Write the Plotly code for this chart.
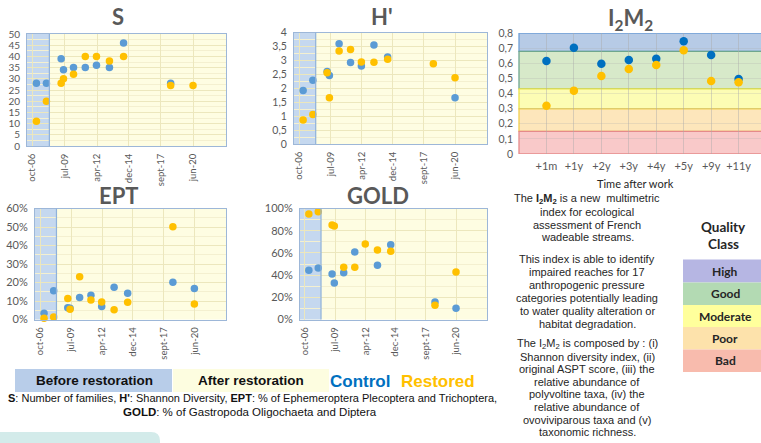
import plotly.graph_objects as go

W, H = 761, 443
def px(x): return x / W
def py(y): return 1 - y / H

# ---------------- data ----------------
sample_dates = [2007.1, 2007.95, 2009.2, 2009.4, 2010.25, 2011.25, 2012.2, 2013.3, 2014.5, 2018.5, 2020.4]
date_tickvals = [2006.75, 2009.5, 2012.25, 2014.92, 2017.67, 2020.42]
date_ticktext = ["oct-06", "jul-09", "apr-12", "dec-14", "sept-17", "jun-20"]
date_range = [2006.3, 2023.2]
restoration_date = 2008.2

S_control = [28, 28, 39, 34, 35, 35, 36, 35, 46, 28, None]
S_restored = [11, 20, 28, 30, 32, 40, 40, 38, 40, 27, 27]
H_control = [1.92, 2.29, 2.6, 2.46, 3.6, 2.92, 2.8, 3.55, 3.12, None, 1.66]
H_restored = [0.86, 1.06, 2.56, 1.66, 3.34, 3.39, 2.94, 2.93, 3.04, 2.88, 2.38]
EPT_control = [0.034, 0.155, 0.063, 0.061, 0.119, 0.131, 0.070, 0.175, 0.142, 0.202, 0.168]
EPT_restored = [0.007, 0.014, 0.113, 0.055, 0.231, 0.106, 0.095, 0.053, 0.093, 0.501, 0.084]
GOLD_control = [0.443, 0.464, 0.41, 0.329, 0.422, 0.608, None, 0.488, 0.674, 0.158, 0.101]
GOLD_restored = [0.95, 0.971, 0.851, 0.842, 0.47, 0.47, 0.68, 0.626, 0.614, 0.128, 0.428]

i2m2_labels = ["+1m", "+1y", "+2y", "+3y", "+4y", "+5y", "+9y", "+11y"]
i2m2_control = [0.615, 0.703, 0.597, 0.621, 0.63, 0.745, 0.655, 0.496]
i2m2_restored = [0.319, 0.419, 0.516, 0.562, 0.588, 0.686, 0.483, 0.474]
quality_classes = ["High", "Good", "Moderate", "Poor", "Bad"]
quality_bounds = [0.8, 0.679, 0.43, 0.298, 0.15, 0.0]

# ---------------- styles ----------------
BLUE = "#5b9bd5"
BLUE_DARK = "#0070c0"
ORANGE = "#ffc000"
GRAY = "#595959"
CHART_FONT = "Lato"
TEXT_FONT = "Liberation Sans, Arial"
PLOT_BG = "#fefde2"
BEFORE_FILL = "#c5d8ef"
BORDER = "#9db7d8"
GRID = "#ece7bd"

band_fill = ["#b7cbe6", "#d7e9c9", "#fcfcb4", "#fde6bb", "#f9c9c9"]
band_line = ["#6f9fd6", "#6fa68e", "#ece34a", "#f1cf4f", "#e58a8a"]
legend_fill = ["#b6b6e3", "#b3dab3", "#ffff9c", "#fde2ab", "#f8bbad"]

fig = go.Figure()

def note(text, x, y, size, color, family=TEXT_FONT):
    return dict(text=text, x=px(x), y=py(y), xref="paper", yref="paper", showarrow=False,
                xanchor="center", yanchor="middle", font=dict(family=family, size=size, color=color))

# panels: (suffix, left, right, top, bottom) in pixels
panels = {
    "S": ("", 27, 226, 34, 146),
    "H'": ("2", 294, 487, 32.5, 144),
    "EPT": ("3", 35, 226, 208.5, 319.5),
    "GOLD": ("4", 300, 487, 208.5, 319.5),
}
yconf = {
    "S": ([0, 50], list(range(0, 51, 5)), [str(v) for v in range(0, 51, 5)], 2.5, 10),
    "H'": ([0, 4], [i * 0.5 for i in range(9)],
           ["0", "0,5", "1", "1,5", "2", "2,5", "3", "3,5", "4"], 0.25, 10.5),
    "EPT": ([0, 0.6], [i * 0.1 for i in range(7)], [f"{i*10}%" for i in range(7)], 0.05, 11),
    "GOLD": ([0, 1.0], [i * 0.2 for i in range(6)], [f"{i*20}%" for i in range(6)], 0.1, 11),
}
series = {
    "S": (S_control, S_restored),
    "H'": (H_control, H_restored),
    "EPT": (EPT_control, EPT_restored),
    "GOLD": (GOLD_control, GOLD_restored),
}
title_pos = {"S": (118, 17), "H'": (382, 17), "EPT": (118, 195), "GOLD": (378, 195)}

layout_axes = {}
shapes = []
annotations = []

for name, (suf, l, r, t, b) in panels.items():
    xa = "x" + suf
    ya = "y" + suf
    ctrl, rest = series[name]
    fig.add_trace(go.Scatter(x=sample_dates, y=ctrl, mode="markers", xaxis=xa, yaxis=ya,
                             marker=dict(color=BLUE, size=7.5), showlegend=False, cliponaxis=False))
    fig.add_trace(go.Scatter(x=sample_dates, y=rest, mode="markers", xaxis=xa, yaxis=ya,
                             marker=dict(color=ORANGE, size=7.5), showlegend=False, cliponaxis=False))
    rng, tv, tt, minor, fsize = yconf[name]
    layout_axes["xaxis" + suf] = dict(
        domain=[px(l), px(r)], range=date_range, anchor=ya, automargin=False,
        tickmode="array", tickvals=date_tickvals, ticktext=date_ticktext, tickangle=-90,
        tickfont=dict(family=CHART_FONT, size=9.5, color=GRAY),
        showgrid=True, gridcolor=GRID, gridwidth=1, zeroline=False,
        showline=True, mirror=True, linecolor=BORDER, linewidth=1, ticks="",
        ticklabelstandoff=3,
    )
    layout_axes["yaxis" + suf] = dict(
        domain=[py(b), py(t)], range=rng, anchor=xa, automargin=False,
        tickmode="array", tickvals=tv, ticktext=tt,
        tickfont=dict(family=CHART_FONT, size=fsize, color=GRAY),
        showgrid=True, gridcolor=GRID, gridwidth=1, zeroline=False,
        minor=dict(showgrid=True, dtick=minor, gridcolor="#f4f0d0", gridwidth=1),
        showline=True, mirror=True, linecolor=BORDER, linewidth=1, ticks="",
        ticklabelstandoff=4,
    )
    shapes.append(dict(type="rect", xref=xa, yref=ya + " domain", x0=date_range[0],
                       x1=restoration_date, y0=0, y1=1, fillcolor=BEFORE_FILL,
                       line=dict(width=0), layer="below"))
    shapes.append(dict(type="line", xref=xa, yref=ya + " domain", x0=restoration_date,
                       x1=restoration_date, y0=0, y1=1, line=dict(color="#8fb1da", width=1.2)))
    tx, ty = title_pos[name]
    annotations.append(note("<b>" + name + "</b>", tx, ty, 22, GRAY, CHART_FONT))

# ---------------- I2M2 panel ----------------
i2m2_x = list(range(1, len(i2m2_labels) + 1))
fig.add_trace(go.Scatter(x=i2m2_x, y=i2m2_control, mode="markers", xaxis="x5", yaxis="y5",
                         marker=dict(color=BLUE_DARK, size=8.5), showlegend=False))
fig.add_trace(go.Scatter(x=i2m2_x, y=i2m2_restored, mode="markers", xaxis="x5", yaxis="y5",
                         marker=dict(color=ORANGE, size=8.5), showlegend=False))
i_left, i_top, i_bottom = 519, 33, 154
layout_axes["xaxis5"] = dict(
    domain=[px(i_left), 1.0], range=[0, (W - i_left) / 27.45], anchor="y5", automargin=False,
    tickmode="array", tickvals=i2m2_x, ticktext=i2m2_labels,
    tickfont=dict(family=CHART_FONT, size=11, color=GRAY),
    showgrid=True, gridcolor="rgba(170,170,170,0.45)", zeroline=False, showline=False, ticks="",
    ticklabelstandoff=4,
)
layout_axes["yaxis5"] = dict(
    domain=[py(i_bottom), py(i_top)], range=[0, 0.8], anchor="x5", automargin=False,
    tickmode="array", tickvals=[i * 0.1 for i in range(9)],
    ticktext=["0"] + [f"0,{i}" for i in range(1, 9)],
    tickfont=dict(family=CHART_FONT, size=10.5, color=GRAY),
    showgrid=True, gridcolor="rgba(170,170,170,0.25)", zeroline=False, showline=False, ticks="",
    ticklabelstandoff=5,
)
for i in range(len(quality_classes)):
    shapes.append(dict(type="rect", xref="x5 domain", yref="y5", x0=0, x1=1.02,
                       y0=quality_bounds[i + 1], y1=quality_bounds[i],
                       fillcolor=band_fill[i], line=dict(color=band_line[i], width=1.3), layer="below"))
annotations.append(note("<b>I<sub>2</sub>M<sub>2</sub></b>", 630, 19, 22, GRAY, CHART_FONT))
annotations.append(note("Time after work", 635, 183, 11, "#262626", CHART_FONT))

# ---------------- I2M2 description ----------------
desc_lines = [
    (199, "The <b>I<sub>2</sub>M<sub>2</sub></b> is a new  multimetric"),
    (212, "index for ecological"),
    (224.5, "assessment of French"),
    (237, "wadeable streams."),
    (258.5, "This index is able to identify"),
    (271.5, "impaired reaches for 17"),
    (284.5, "anthropogenic pressure"),
    (297.5, "categories potentially leading"),
    (310.5, "to water quality alteration or"),
    (323.5, "habitat degradation."),
    (344, "The I<sub>2</sub>M<sub>2</sub> is composed by : (i)"),
    (356.6, "Shannon diversity index, (ii)"),
    (369.2, "original ASPT score, (iii) the"),
    (381.8, "relative abundance of"),
    (394.4, "polyvoltine taxa, (iv) the"),
    (407, "relative abundance of"),
    (419.6, "ovoviviparous taxa and (v)"),
    (432.2, "taxonomic richness."),
]
for y, txt in desc_lines:
    annotations.append(note(txt, 587, y, 11, "#262626"))

# ---------------- quality class legend ----------------
annotations.append(note("<b>Quality</b>", 723, 227, 13.5, "#262626", CHART_FONT))
annotations.append(note("<b>Class</b>", 723, 243.5, 13.5, "#262626", CHART_FONT))
box_tops = [259.5, 282.5, 305, 327, 349.5, 372]
for i, qc in enumerate(quality_classes):
    shapes.append(dict(type="rect", xref="paper", yref="paper", x0=px(683), x1=px(761),
                       y0=py(box_tops[i + 1]), y1=py(box_tops[i]), fillcolor=legend_fill[i],
                       line=dict(width=0)))
    annotations.append(note("<b>" + qc + "</b>", 725, (box_tops[i] + box_tops[i + 1]) / 2, 12,
                            "#262626", CHART_FONT))

# ---------------- bottom legend ----------------
shapes.append(dict(type="rect", xref="paper", yref="paper", x0=px(15), x1=px(172), y0=py(392), y1=py(369),
                   fillcolor="#b8cde9", line=dict(width=0)))
shapes.append(dict(type="rect", xref="paper", yref="paper", x0=px(173), x1=px(329), y0=py(392), y1=py(369),
                   fillcolor="#fdfde0", line=dict(width=0)))
annotations.append(note("<b>Before restoration</b>", 94, 380.5, 13.5, "#111111"))
annotations.append(note("<b>After restoration</b>", 251, 380.5, 13.5, "#111111"))
annotations.append(note("<b>Control</b>", 360, 381, 17, BLUE_DARK))
annotations.append(note("<b>Restored</b>", 438, 381, 17, ORANGE))
annotations.append(note(
    "<b>S</b>: Number of families, <b>H'</b>: Shannon Diversity, <b>EPT</b>: % of Ephemeroptera Plecoptera and Trichoptera,",
    253, 398, 11, "#111111"))
annotations.append(note("<b>GOLD</b>: % of Gastropoda Oligochaeta and Diptera", 250, 411.5, 11.5, "#111111"))

# teal rounded box at bottom-left
shapes.append(dict(type="path", xref="paper", yref="paper",
                   path=f"M 0,{py(443)} L 0,{py(432)} L {px(151)},{py(432)} "
                        f"Q {px(160)},{py(432)} {px(160)},{py(441)} L {px(160)},{py(443)} Z",
                   fillcolor="#d3ebea", line=dict(width=0)))

fig.update_layout(
    width=W, height=H, margin=dict(l=0, r=0, t=0, b=0, pad=0, autoexpand=False),
    paper_bgcolor="white", plot_bgcolor=PLOT_BG,
    shapes=shapes, annotations=annotations, showlegend=False,
    **layout_axes,
)

fig.write_html("out.html", config={"displayModeBar": False},
               post_script="document.body.style.margin='0';document.body.style.overflow='hidden';")
